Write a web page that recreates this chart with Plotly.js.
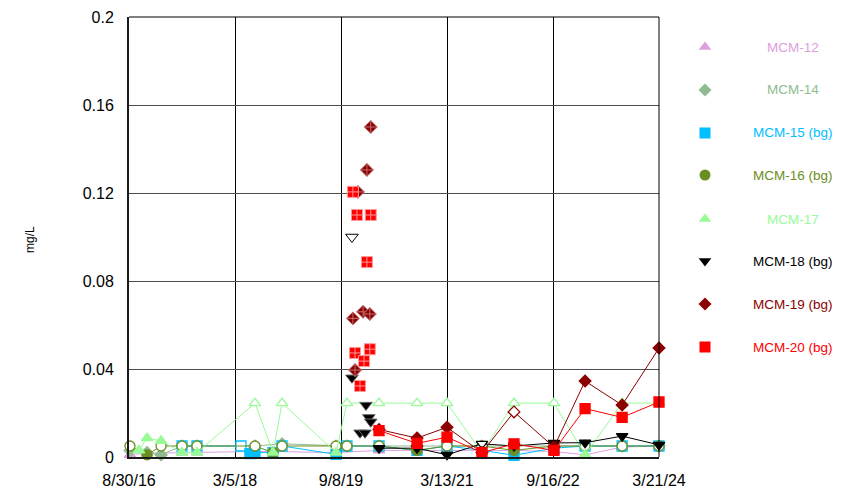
<!DOCTYPE html>
<html>
<head>
<meta charset="utf-8">
<script src="https://cdn.plot.ly/plotly-3.0.1.min.js"></script>
<style>html,body{margin:0;padding:0;background:#fff;}#chart{width:858px;height:490px;}</style>
</head>
<body>
<div id="chart"></div>
<script>
// ---------------- DATA ----------------
const seriesNames = ["MCM-12", "MCM-14", "MCM-15 (bg)", "MCM-16 (bg)", "MCM-17", "MCM-18 (bg)", "MCM-19 (bg)", "MCM-20 (bg)"];

// flags: "f" = filled marker, "o" = open (hollow) marker, "h" = hatched marker
const m12Dates = ["2016-09-04","2016-12-02","2017-02-13","2017-06-02","2017-08-19","2018-05-22","2018-09-19","2019-08-13","2020-03-24","2020-10-08","2021-03-13","2021-09-11","2022-02-25","2022-09-21","2023-03-02","2023-09-11","2024-03-21"];
const m12Vals  = [0.001,0.0018,0.0018,0.002,0.002,0.0025,0.0025,0.002,0.003,0.003,0.003,0.003,0.003,0.0025,0.001,0.0045,0.005];
const m12Flags = ["f","f","f","f","f","f","f","f","f","f","f","f","f","f","f","f","f"];

const m14Dates = ["2016-09-04","2016-12-02","2017-02-13","2017-06-02","2017-08-19","2018-06-17","2018-11-05","2019-08-13","2019-10-09","2020-03-24","2020-10-08","2021-03-13","2021-09-11","2022-02-25","2022-09-21","2023-03-02","2023-09-11","2024-03-21"];
const m14Vals  = [0.003,0.002,0.001,0.005,0.005,0.005,0.006,0.005,0.005,0.005,0.005,0.005,0.005,0.005,0.005,0.005,0.005,0.005];
const m14Flags = ["f","f","f","f","f","f","f","f","f","f","f","f","f","f","f","f","f","f"];

const m15Dates = ["2017-06-02","2017-08-19","2018-04-05","2018-05-22","2018-06-17","2018-09-19","2018-11-05","2019-08-13","2019-10-09","2020-03-24","2020-10-08","2021-03-13","2021-09-11","2022-02-25","2022-09-21","2023-03-02","2023-09-11","2024-03-21"];
const m15Vals  = [0.005,0.005,0.005,0.0015,0.002,0.002,0.005,0.0012,0.005,0.005,0.003,0.005,0.003,0.0008,0.004,0.005,0.005,0.005];
const m15Flags = ["o","o","o","f","f","f","o","f","o","o","f","o","f","f","f","o","o","o"];

const m16Dates = ["2016-09-04","2016-12-02","2017-02-13","2017-06-02","2017-08-19","2018-06-17","2018-09-19","2018-11-05","2019-08-13","2019-10-09","2020-03-24","2020-10-08","2021-03-13","2021-09-11","2022-02-25","2022-09-21","2023-03-02","2023-09-11","2024-03-21"];
const m16Vals  = [0.005,0.001,0.005,0.005,0.005,0.005,0.002,0.005,0.005,0.005,0.005,0.003,0.005,0.005,0.003,0.005,0.005,0.005,0.005];
const m16Flags = ["o","f","o","o","o","o","f","o","o","o","o","f","o","o","f","o","o","o","o"];

const m17Dates = ["2016-10-21","2016-12-02","2017-02-13","2017-06-02","2017-08-19","2018-06-17","2018-09-19","2018-11-05","2019-08-13","2019-10-09","2020-03-24","2020-10-08","2021-03-13","2021-09-11","2022-02-25","2022-09-21","2023-03-02","2023-09-11","2024-03-21"];
const m17Vals  = [0.003,0.0086,0.0073,0.002,0.002,0.0245,0.002,0.0245,0.002,0.0245,0.0245,0.0245,0.0245,0.002,0.0245,0.0245,0.001,0.0245,0.0245];
const m17Flags = ["f","f","f","f","f","o","f","o","f","o","o","o","o","f","o","o","f","o","o"];

const m18Dates = ["2020-03-24","2020-10-08","2021-03-13","2021-09-11","2022-02-25","2022-09-21","2023-03-02","2023-09-11","2024-03-21"];
const m18Vals  = [0.004,0.004,0.001,0.006,0.005,0.0064,0.0065,0.0095,0.0055];
const m18Flags = ["f","f","f","o","f","f","f","f","f"];
// additional (hatched / unconnected) samples
const m18xDates = ["2019-11-04","2019-11-04","2020-01-16","2020-01-31","2020-02-10","2019-12-16","2020-01-11"];
const m18xVals  = [0.1,0.036,0.0236,0.018,0.016,0.011,0.011];
const m18xFlags = ["o","h","h","h","h","h","h"];

const m19Dates = ["2020-03-24","2020-10-08","2021-03-13","2021-09-11","2022-02-25","2022-09-21","2023-03-02","2023-09-11","2024-03-21"];
const m19Vals  = [0.0125,0.0086,0.0135,0.002,0.0205,0.0045,0.0345,0.0236,0.0495];
const m19Flags = ["f","f","f","f","o","f","f","f","f"];
const m19xDates = ["2020-02-10","2020-01-21","2019-12-05","2019-11-09","2020-01-01","2020-02-05","2019-11-20"];
const m19xVals  = [0.15,0.1305,0.1205,0.063,0.066,0.065,0.0395];

const m20Dates = ["2020-03-24","2020-10-08","2021-03-13","2021-09-11","2022-02-25","2022-09-21","2023-03-02","2023-09-11","2024-03-21"];
const m20Vals  = [0.012,0.0062,0.009,0.002,0.006,0.003,0.022,0.018,0.025];
const m20Flags = ["f","f","f","f","f","f","f","f","f"];
const m20xDates = ["2019-11-09","2019-11-30","2020-02-10","2020-01-21","2019-11-20","2020-02-05","2020-01-06","2019-12-16"];
const m20xVals  = [0.1205,0.11,0.11,0.0886,0.0473,0.049,0.0436,0.0323];

const yTickVals = [0, 0.04, 0.08, 0.12, 0.16, 0.2];
const yTickText = ["0", "0.04", "0.08", "0.12", "0.16", "0.2"];
const xRange = ["2016-08-30", "2024-03-21"];

// ---------------- STYLE ----------------
const colors  = ["#dda0dd", "#8fbc8f", "#00bfff", "#6b8e23", "#98fb98", "#000000", "#8b0000", "#ff0000"];
const symbols = ["triangle-up", "diamond", "square", "circle", "triangle-up", "triangle-down", "diamond", "square"];
const hatchSymbols = ["triangle-up", "diamond-cross", "square-cross", "circle-cross", "triangle-up", "triangle-down", "diamond-cross", "square-cross"];
const sizes   = [10, 9, 10, 10, 10, 10, 9, 10];
const hatchLine = ["#e8c0e8", "#b0d0b0", "#80dfff", "#a0b870", "#c8fdc8", "#6a6a6a", "#c07070", "#ff9a9a"];

const W = 858, H = 490;
const plotL = 129, plotR = 659, plotT = 17, plotB = 457;
const FONT = "Arial, 'Liberation Sans', sans-serif";

function mainTrace(i, dates, vals, flags) {
  return {
    type: "scatter", mode: "lines+markers", name: seriesNames[i],
    x: dates, y: vals, xaxis: "x", yaxis: "y", showlegend: false, cliponaxis: false,
    line: { color: colors[i], width: 1 },
    marker: {
      symbol: symbols[i], size: sizes[i],
      color: flags.map(f => f === "o" ? "#ffffff" : colors[i]),
      line: { color: colors[i], width: 1.3 }
    }
  };
}
function extraTrace(i, dates, vals, flags) {
  const fl = flags || vals.map(() => "h");
  return {
    type: "scatter", mode: "markers", name: seriesNames[i] + " (add'l)",
    x: dates, y: vals, xaxis: "x", yaxis: "y", showlegend: false, cliponaxis: false,
    marker: {
      symbol: fl.map(f => f === "h" ? hatchSymbols[i] : symbols[i]),
      size: sizes[i] + 1,
      color: fl.map(f => f === "o" ? "#ffffff" : colors[i]),
      line: { color: fl.map(f => f === "o" ? colors[i] : hatchLine[i]), width: 1 }
    }
  };
}

const traces = [
  mainTrace(0, m12Dates, m12Vals, m12Flags),
  mainTrace(1, m14Dates, m14Vals, m14Flags),
  mainTrace(2, m15Dates, m15Vals, m15Flags),
  mainTrace(3, m16Dates, m16Vals, m16Flags),
  mainTrace(4, m17Dates, m17Vals, m17Flags),
  mainTrace(5, m18Dates, m18Vals, m18Flags),
  mainTrace(6, m19Dates, m19Vals, m19Flags),
  mainTrace(7, m20Dates, m20Vals, m20Flags),
  extraTrace(5, m18xDates, m18xVals, m18xFlags),
  extraTrace(6, m19xDates, m19xVals),
  extraTrace(7, m20xDates, m20xVals)
];

// legend (drawn on a pixel-unit overlay axis)
const legX = 705, legTextX = 793;
const legY = [47, 90, 133, 175, 219, 261, 304, 347];
const legSizes = [11, 10, 11, 11, 11, 11, 10, 11];
seriesNames.forEach((n, i) => {
  traces.push({
    type: "scatter", mode: "markers", name: n, showlegend: false, hoverinfo: "skip",
    x: [legX], y: [legY[i]], xaxis: "x2", yaxis: "y2", cliponaxis: false,
    marker: { symbol: symbols[i], size: legSizes[i], color: colors[i], line: { width: 0 } }
  });
});

const annotations = seriesNames.map((n, i) => ({
  text: n, xref: "paper", yref: "paper", x: legTextX / W, y: 1 - legY[i] / H,
  xanchor: "center", yanchor: "middle", showarrow: false,
  font: { family: FONT, size: 13.5, color: colors[i] }
}));
annotations.push({
  text: "mg/L", xref: "paper", yref: "paper", x: 30 / W, y: 1 - 240 / H,
  xanchor: "center", yanchor: "middle", textangle: -90, showarrow: false,
  font: { family: FONT, size: 12, color: "#000" }
});

const layout = {
  width: W, height: H,
  margin: { l: 0, r: 0, t: 0, b: 0, pad: 0 },
  paper_bgcolor: "#ffffff", plot_bgcolor: "rgba(0,0,0,0)",
  showlegend: false,
  font: { family: FONT, color: "#000" },
  xaxis: {
    type: "date", domain: [plotL / W, plotR / W], anchor: "y",
    range: xRange, autorange: false,
    tick0: xRange[0], dtick: 552 * 86400000, tickformat: "%-m/%-d/%y",
    showgrid: true, gridcolor: "#000000", gridwidth: 1,
    showline: true, linecolor: "#1a1a1a", linewidth: 2,
    ticks: "", ticklabelstandoff: 8,
    tickfont: { family: FONT, size: 16, color: "#000" },
    zeroline: false, fixedrange: true
  },
  yaxis: {
    domain: [1 - plotB / H, 1 - plotT / H], anchor: "x",
    range: [0, 0.2], autorange: false,
    tickvals: yTickVals, ticktext: yTickText,
    showgrid: true, gridcolor: "#4d4d4d", gridwidth: 1,
    showline: true, linecolor: "#1a1a1a", linewidth: 2,
    ticks: "", ticklabelstandoff: 10,
    tickfont: { family: FONT, size: 16, color: "#000" },
    zeroline: false, fixedrange: true
  },
  xaxis2: { domain: [0, 1], range: [0, W], anchor: "y2", visible: false, fixedrange: true },
  yaxis2: { domain: [0, 1], range: [H, 0], anchor: "x2", visible: false, fixedrange: true },
  shapes: [
    { type: "line", xref: "paper", yref: "paper", x0: plotL / W, x1: plotR / W, y0: 1 - plotT / H, y1: 1 - plotT / H, line: { color: "#000", width: 1 } },
    { type: "line", xref: "paper", yref: "paper", x0: plotR / W, x1: plotR / W, y0: 1 - plotT / H, y1: 1 - plotB / H, line: { color: "#000", width: 1 } }
  ],
  annotations: annotations
};

Plotly.newPlot("chart", traces, layout, { staticPlot: true, displayModeBar: false });
</script>
</body>
</html>
